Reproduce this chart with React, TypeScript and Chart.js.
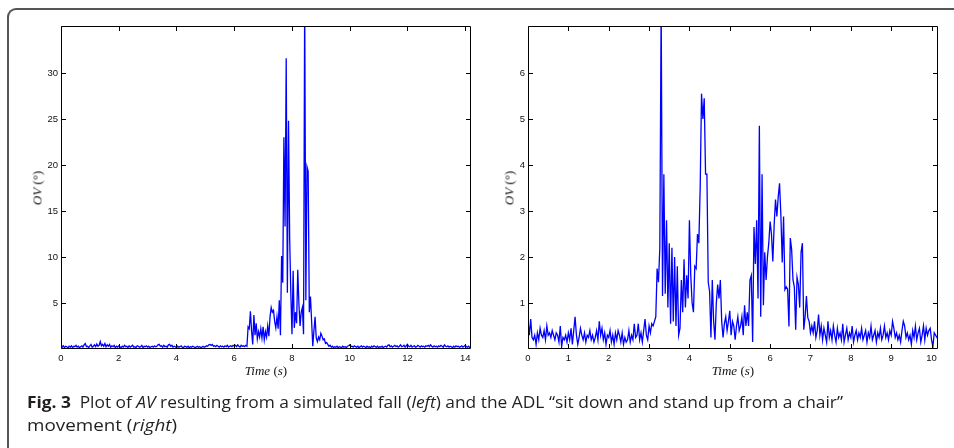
import React, { useEffect, useRef } from "react";
import { Chart, registerables } from "chart.js";

Chart.register(...registerables);

// ---------- Left panel: simulated fall ----------
const LEFT_DT = 0.04; // s between samples
const LEFT_X_MAX = 14.2;
const LEFT_Y_MAX = 35.1;
const LEFT_X_TICKS = [0, 2, 4, 6, 8, 10, 12, 14];
const LEFT_Y_TICKS = [5, 10, 15, 20, 25, 30];
const LEFT_AV = [
  0.55, 0.2, 0.35, 0.15, 0.3, 0.25, 0.1, 0.3, 0.2, 0.35,
  0.15, 0.3, 0.25, 0.4, 0.2, 0.3, 0.15, 0.25, 0.35, 0.2,
  0.45, 0.6, 0.25, 0.3, 0.15, 0.35, 0.5, 0.2, 0.3, 0.45,
  0.25, 0.55, 0.3, 0.4, 0.8, 0.35, 0.5, 0.3, 0.6, 0.25,
  0.45, 0.3, 0.5, 0.2, 0.35, 0.25, 0.4, 0.15, 0.3, 0.2,
  0.35, 0.25, 0.15, 0.3, 0.2, 0.4, 0.25, 0.3, 0.15, 0.35,
  0.2, 0.3, 0.4, 0.2, 0.25, 0.15, 0.35, 0.3, 0.2, 0.25,
  0.4, 0.15, 0.3, 0.25, 0.35, 0.2, 0.3, 0.15, 0.25, 0.3,
  0.2, 0.35, 0.25, 0.3, 0.45, 0.5, 0.3, 0.35, 0.2, 0.4,
  0.25, 0.3, 0.2, 0.45, 0.5, 0.3, 0.4, 0.2, 0.3, 0.25,
  0.15, 0.3, 0.2, 0.25, 0.35, 0.2, 0.15, 0.3, 0.25, 0.2,
  0.3, 0.15, 0.25, 0.2, 0.3, 0.25, 0.15, 0.2, 0.3, 0.2,
  0.25, 0.15, 0.2, 0.3, 0.2, 0.25, 0.35, 0.3, 0.45, 0.5,
  0.4, 0.5, 0.3, 0.35, 0.25, 0.4, 0.3, 0.2, 0.35, 0.25,
  0.3, 0.2, 0.35, 0.25, 0.4, 0.2, 0.3, 0.35, 0.25, 0.4,
  0.3, 0.4, 0.25, 0.45, 0.3, 0.2, 0.4, 0.3, 0.35, 0.25,
  0.4, 0.3,
  2.4, 2.2, 4.1, 2.0, 0.5, 3.7, 1.5, 2.8, 1.1, 1.9,
  1.3, 2.2, 1.2, 2.4, 1.0, 1.9, 1.3, 2.5, 1.4, 3.5,
  4.5, 4.0, 4.2, 3.0, 2.3, 3.5, 2.2, 5.3, 1.5, 10.1,
  7.2, 23.0, 13.3, 31.6, 6.1, 24.8, 12.0, 6.0, 1.6, 8.5,
  2.3, 4.0, 2.8, 8.6, 4.9, 2.5, 4.0, 4.5, 1.6, 38.0,
  5.3, 19.8, 19.3, 4.0, 5.7, 3.0, 0.3, 2.0, 3.5, 1.2,
  0.8, 1.3, 1.0, 1.7, 1.4, 1.0, 1.1, 0.6, 0.7, 0.5,
  0.3, 0.4, 0.2,
  0.3, 0.15, 0.25, 0.2, 0.3, 0.15, 0.25, 0.2, 0.15, 0.3,
  0.2, 0.25, 0.15, 0.3, 0.35, 0.45, 0.25, 0.3, 0.2, 0.35,
  0.25, 0.2, 0.3, 0.15, 0.25, 0.35, 0.2, 0.3, 0.25, 0.15,
  0.3, 0.2, 0.25, 0.15, 0.3, 0.2, 0.35, 0.25, 0.2, 0.3,
  0.15, 0.25, 0.2, 0.3, 0.15, 0.25, 0.3, 0.2, 0.4, 0.45,
  0.25, 0.35, 0.2, 0.3, 0.4, 0.25, 0.35, 0.2, 0.3, 0.45,
  0.25, 0.3, 0.4, 0.2, 0.35, 0.5, 0.3, 0.25, 0.4, 0.2,
  0.3, 0.35, 0.2, 0.25, 0.4, 0.3, 0.2, 0.35, 0.25, 0.3,
  0.2, 0.35, 0.3, 0.4, 0.25, 0.45, 0.3, 0.2, 0.35, 0.25,
  0.3, 0.2, 0.35, 0.25, 0.4, 0.3, 0.2, 0.45, 0.3, 0.25,
  0.35, 0.2, 0.3, 0.25, 0.15, 0.3, 0.2, 0.35, 0.25, 0.3,
  0.2, 0.25, 0.35, 0.2, 0.3, 0.4, 0.25, 0.2, 0.3, 0.15, 0.25,
];

// ---------- Right panel: sit down / stand up ----------
const RIGHT_DT = 1 / 30;
const RIGHT_X_MAX = 10.16;
const RIGHT_Y_MAX = 7.02;
const RIGHT_X_TICKS = [0, 1, 2, 3, 4, 5, 6, 7, 8, 9, 10];
const RIGHT_Y_TICKS = [1, 2, 3, 4, 5, 6];
const RIGHT_AV = [
  0.6, 0.3, 0.65, 0.25, 0.2, 0.3, 0.1, 0.35, 0.2, 0.45,
  0.3, 0.25, 0.4, 0.2, 0.5, 0.3, 0.35, 0.25, 0.4, 0.3,
  0.2, 0.35, 0.3, 0.15, 0.5, 0.05, 0.25, 0.2, 0.3, 0.15,
  0.35, 0.2, 0.45, 0.1, 0.4, 0.7, 0.3, 0.1, 0.25, 0.45,
  0.3, 0.2, 0.35, 0.15, 0.3, 0.25, 0.4, 0.2, 0.3, 0.15,
  0.25, 0.4, 0.2, 0.6, 0.3, 0.45, 0.2, 0.35, 0.1, 0.3,
  0.25, 0.4, 0.15, 0.3, 0.1, 0.35, 0.2, 0.4, 0.3, 0.15,
  0.35, 0.1, 0.25, 0.15, 0.2, 0.4, 0.15, 0.3, 0.2, 0.55,
  0.25, 0.3, 0.55, 0.2, 0.35, 0.15, 0.4, 0.65, 0.3, 0.2,
  0.5, 0.35, 0.55, 0.5,
  0.6, 0.7, 1.75, 1.45, 2.2, 7.5, 1.15, 3.8, 1.2, 2.8,
  0.9, 2.3, 0.55, 2.2, 0.6, 2.0, 0.5, 1.8, 0.3, 0.45,
  1.5, 0.8, 1.95, 0.9, 1.6, 1.1, 2.8, 1.6, 1.0, 0.8,
  1.8, 1.75, 2.5, 2.3, 3.5, 5.55, 5.0, 5.45, 3.8, 3.8,
  1.45, 1.25, 0.25, 1.5, 0.6, 0.2, 1.0, 1.4, 1.1, 1.5,
  0.6, 0.25, 0.55, 0.7, 0.4, 0.6, 0.83, 0.3, 0.6, 0.5,
  0.2, 0.5, 0.7, 0.4, 0.5, 0.7, 0.3, 0.95, 0.5, 0.8,
  0.5, 1.5, 1.6, 0.15, 2.65, 1.85, 2.8, 1.1, 4.85,
  0.7, 3.8, 0.95, 2.1, 1.5, 2.0, 2.3, 2.77, 2.5, 1.9,
  2.7, 3.25, 2.88, 3.3, 3.6, 2.9, 1.88, 2.88, 1.29, 1.35,
  1.3, 0.49, 2.41, 2.16, 1.5, 1.35, 0.42, 1.56, 1.4, 0.9,
  2.1, 2.3, 0.42, 0.7, 1.15, 0.68, 0.6, 0.35, 0.5,
  0.35, 0.6, 0.25, 0.4, 0.75, 0.3, 0.5, 0.2, 0.45, 0.3,
  0.15, 0.6, 0.25, 0.4, 0.2, 0.5, 0.3, 0.15, 0.45, 0.25,
  0.35, 0.2, 0.55, 0.15, 0.3, 0.45, 0.2, 0.35, 0.25, 0.5,
  0.15, 0.3, 0.4, 0.2, 0.35, 0.25, 0.45, 0.2, 0.3, 0.4,
  0.15, 0.35, 0.25, 0.5, 0.2, 0.3, 0.4, 0.15, 0.35, 0.25,
  0.45, 0.2, 0.3, 0.5, 0.25, 0.35, 0.2, 0.4, 0.3, 0.6,
  0.45, 0.25, 0.35, 0.2, 0.3, 0.15, 0.4, 0.6, 0.5, 0.25,
  0.35, 0.2, 0.3, 0.1, 0.4, 0.25, 0.5, 0.2, 0.35, 0.45,
  0.15, 0.3, 0.5, 0.2, 0.45, 0.3, 0.4, 0.45, 0.2, 0.05,
  0.35, 0.3, 0.25, 0.3,
];

const TICK_FONT = { family: "'Liberation Sans', Arial, sans-serif", size: 9.5 };
const TICK_COLOR = "#111";

const frameTicks = {
  id: "frameTicks",
  afterDraw(chart: any) {
    const { ctx, chartArea: a, scales } = chart;
    const L = 4.5;
    ctx.save();
    ctx.strokeStyle = "#000";
    ctx.lineWidth = 1;
    const left = Math.round(a.left) + 0.5;
    const right = Math.round(a.right) - 0.5;
    const top = Math.round(a.top) + 0.5;
    const bottom = Math.round(a.bottom) - 0.5;
    ctx.beginPath();
    ctx.rect(left, top, right - left, bottom - top);
    scales.x.ticks.forEach((t: any) => {
      const px = Math.round(scales.x.getPixelForValue(t.value)) + 0.5;
      ctx.moveTo(px, bottom);
      ctx.lineTo(px, bottom - L);
      ctx.moveTo(px, top);
      ctx.lineTo(px, top + L);
    });
    scales.y.ticks.forEach((t: any) => {
      const py = Math.round(scales.y.getPixelForValue(t.value)) + 0.5;
      ctx.moveTo(left, py);
      ctx.lineTo(left + L, py);
      ctx.moveTo(right, py);
      ctx.lineTo(right - L, py);
    });
    ctx.stroke();
    ctx.restore();
  },
};

type PanelProps = {
  values: number[];
  dt: number;
  xMax: number;
  yMax: number;
  xTicks: number[];
  yTicks: number[];
  yAxisWidth: number;
  rightPad: number;
  width: number;
  height: number;
};

function Panel(p: PanelProps) {
  const ref = useRef<HTMLCanvasElement | null>(null);
  useEffect(() => {
    if (!ref.current) return;
    const data = p.values.map((v, i) => ({ x: i * p.dt, y: v }));
    const chart = new Chart(ref.current, {
      type: "line",
      data: {
        datasets: [
          {
            data,
            borderColor: "#0000ff",
            borderWidth: 1.3,
            pointRadius: 0,
            tension: 0,
            fill: false,
            clip: 0,
          } as any,
        ],
      },
      options: {
        animation: false,
        responsive: false,
        maintainAspectRatio: false,
        events: [],
        layout: { padding: { top: 26, right: p.rightPad, left: 0, bottom: 0 } },
        plugins: { legend: { display: false }, tooltip: { enabled: false }, title: { display: false } },
        scales: {
          x: {
            type: "linear",
            min: 0,
            max: p.xMax,
            grid: { display: false, drawTicks: false },
            border: { display: false },
            afterBuildTicks: (s: any) => {
              s.ticks = p.xTicks.map((v) => ({ value: v }));
            },
            afterFit: (s: any) => {
              s.height = 31;
            },
            ticks: {
              font: TICK_FONT,
              color: TICK_COLOR,
              padding: 4,
              maxRotation: 0,
              autoSkip: false,
              callback: (v: any) => String(v),
            },
          },
          y: {
            type: "linear",
            min: 0,
            max: p.yMax,
            grid: { display: false, drawTicks: false },
            border: { display: false },
            afterBuildTicks: (s: any) => {
              s.ticks = p.yTicks.map((v) => ({ value: v }));
            },
            afterFit: (s: any) => {
              s.width = p.yAxisWidth;
            },
            ticks: {
              font: TICK_FONT,
              color: TICK_COLOR,
              padding: 3,
              autoSkip: false,
              callback: (v: any) => String(v),
            },
          },
        },
      } as any,
      plugins: [frameTicks],
    });
    return () => chart.destroy();
  }, []);
  return <canvas ref={ref} width={p.width} height={p.height} style={{ width: p.width, height: p.height, display: "block" }} />;
}

const serif = "'Liberation Serif', 'DejaVu Serif', serif";

function YTitle({ x, y }: { x: number; y: number }) {
  return (
    <div
      style={{
        position: "absolute",
        left: x,
        top: y,
        transform: "translate(-50%, -50%) rotate(-90deg)",
        fontFamily: serif,
        fontSize: 13,
        color: "#111",
        whiteSpace: "nowrap",
        lineHeight: 1,
      }}
    >
      <i>OV</i> (°)
    </div>
  );
}

function XTitle({ x, y }: { x: number; y: number }) {
  return (
    <div
      style={{
        position: "absolute",
        left: x,
        top: y,
        transform: "translate(-50%, -50%)",
        fontFamily: serif,
        fontSize: 13,
        color: "#111",
        whiteSpace: "nowrap",
        lineHeight: 1,
      }}
    >
      <i>Time</i> (<i>s</i>)
    </div>
  );
}

export default function App() {
  const captionFont = "'Open Sans', 'Noto Sans', sans-serif";
  return (
    <div
      style={{
        position: "absolute",
        left: 0,
        top: 0,
        width: 954,
        height: 448,
        overflow: "hidden",
        background: "#fff",
      }}
    >
      <div
        style={{
          position: "absolute",
          left: 7,
          top: 8,
          width: 1100,
          height: 600,
          borderTop: "2px solid #555",
          borderLeft: "2px solid #555",
          borderTopLeftRadius: 9,
          boxSizing: "border-box",
        }}
      />
      <div style={{ position: "absolute", left: 0, top: 0 }}>
        <Panel
          values={LEFT_AV}
          dt={LEFT_DT}
          xMax={LEFT_X_MAX}
          yMax={LEFT_Y_MAX}
          xTicks={LEFT_X_TICKS}
          yTicks={LEFT_Y_TICKS}
          yAxisWidth={61}
          rightPad={9}
          width={480}
          height={380}
        />
      </div>
      <div style={{ position: "absolute", left: 480, top: 0 }}>
        <Panel
          values={RIGHT_AV}
          dt={RIGHT_DT}
          xMax={RIGHT_X_MAX}
          yMax={RIGHT_Y_MAX}
          xTicks={RIGHT_X_TICKS}
          yTicks={RIGHT_Y_TICKS}
          yAxisWidth={48}
          rightPad={16}
          width={474}
          height={380}
        />
      </div>
      <YTitle x={37} y={188} />
      <YTitle x={509} y={188} />
      <XTitle x={266} y={370} />
      <XTitle x={733} y={370} />
      <svg
        width={954}
        height={68}
        style={{ position: "absolute", left: 0, top: 380 }}
      >
        <text
          x={27}
          y={28}
          textLength={816}
          lengthAdjust="spacingAndGlyphs"
          fontFamily={captionFont}
          fontSize={16}
          fill="#231f20"
        >
          <tspan fontWeight="bold">Fig. 3</tspan>
          <tspan>{"\u2002Plot of "}</tspan>
          <tspan fontStyle="italic">AV</tspan>
          <tspan>{" resulting from a simulated fall ("}</tspan>
          <tspan fontStyle="italic">left</tspan>
          <tspan>{") and the ADL \u201csit down and stand up from a chair\u201d"}</tspan>
        </text>
        <text
          x={27}
          y={51}
          textLength={150}
          lengthAdjust="spacingAndGlyphs"
          fontFamily={captionFont}
          fontSize={16}
          fill="#231f20"
        >
          <tspan>{"movement ("}</tspan>
          <tspan fontStyle="italic">right</tspan>
          <tspan>{")"}</tspan>
        </text>
      </svg>
    </div>
  );
}
